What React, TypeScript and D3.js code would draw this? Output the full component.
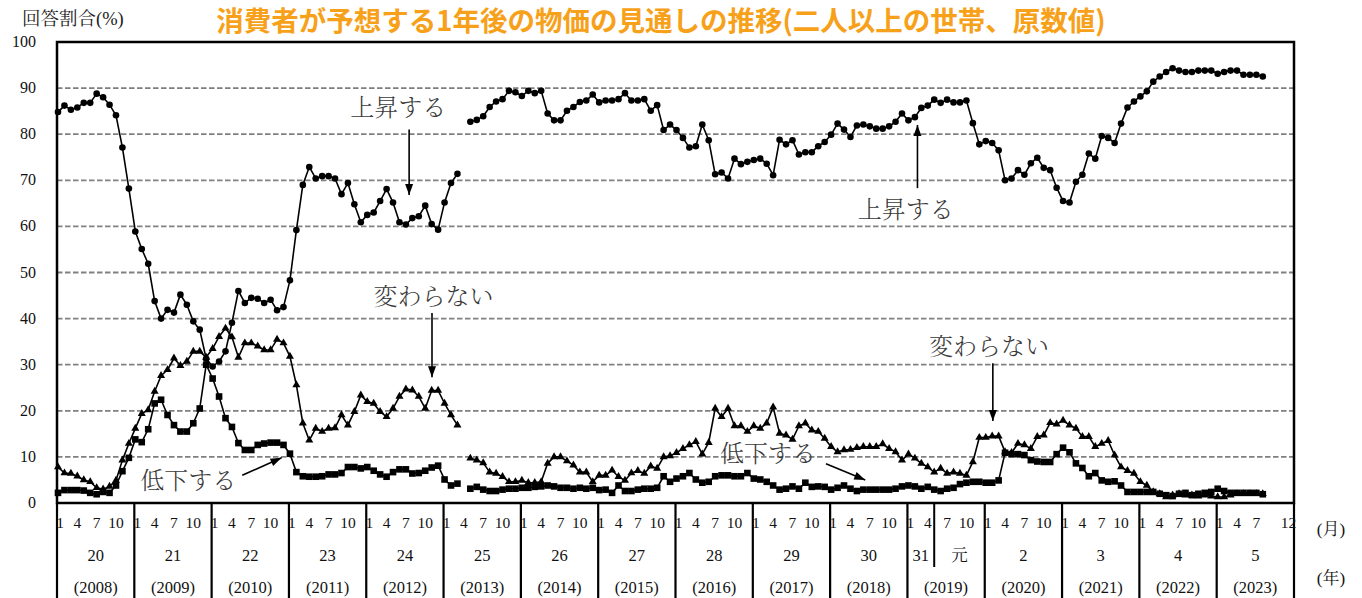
import React from "react";
import * as d3 from "d3";

const W = 1362;
const H = 598;

// Monthly data, Jan 2008 (index 0) .. Aug 2023 (index 187); index 63 (Apr 2013) has no point
const upData: (number | null)[] = [
  84.8, 86.2, 85.3, 85.8, 86.8, 86.8, 88.8, 88.0, 86.4, 84.1, 77.1, 68.2,
  58.9, 55.1, 51.9, 43.8, 40.0, 41.9, 41.3, 45.2, 43.0, 39.4, 37.6, 31.3,
  29.6, 30.7, 32.9, 39.1, 46.0, 43.4, 44.5, 44.3, 43.4, 44.1, 41.8, 42.5,
  48.3, 59.2, 69.0, 72.9, 70.4, 70.9, 70.9, 70.4, 67.0, 69.4, 64.8, 60.9,
  62.5, 63.0, 65.5, 68.1, 65.2, 60.9, 60.4, 61.8, 62.2, 64.5, 60.5, 59.3,
  65.2, 69.4, 71.4, null,
  82.7, 83.1, 83.9, 85.9, 87.1, 87.6, 89.4, 89.1, 88.3, 89.4,
  88.9, 89.4, 84.5, 83.0, 83.0, 85.1, 85.9, 87.0, 87.3, 88.6,
  86.9, 87.3, 87.3, 87.6, 88.9, 87.3, 87.3, 87.6, 85.1, 86.3,
  80.9, 82.1, 80.9, 79.2, 77.1, 77.4, 82.1, 78.7, 71.3, 71.7,
  70.4, 74.7, 73.5, 74.0, 74.4, 74.7, 73.6, 71.1, 78.8, 77.8,
  78.7, 75.6, 76.1, 76.1, 77.4, 78.3, 79.9, 82.3, 81.0, 79.4, 81.9,
  82.1, 81.7, 81.2, 81.2, 81.7, 82.7, 84.5, 83.0, 83.7, 85.7,
  86.2, 87.5, 86.8, 87.5, 86.9, 86.9, 87.3, 82.4, 77.8, 78.5,
  78.1, 76.5, 70.0, 70.4, 72.2, 71.2, 73.7, 74.9, 72.7, 72.2,
  68.4, 65.5, 65.2, 69.7, 71.2, 75.8, 74.7, 79.6, 79.2, 78.1,
  82.3, 85.8, 87.1, 88.2, 89.3, 91.4, 92.5, 93.5, 94.3, 93.8,
  93.5, 93.5, 93.8, 93.8, 93.8, 93.1, 93.5, 93.8, 93.8, 92.9,
  92.9, 92.9, 92.5,
];

const flatData: (number | null)[] = [
  7.8, 6.5, 6.4, 5.8, 5.0, 4.6, 3.3, 3.0, 3.6, 4.9, 9.3, 12.9,
  16.2, 19.4, 20.2, 24.2, 27.6, 28.9, 31.4, 29.8, 30.7, 32.9, 32.9, 31.6,
  33.5, 36.1, 37.9, 36.0, 31.6, 34.7, 34.7, 34.0, 33.2, 33.2, 35.5, 34.7,
  31.8, 25.6, 17.3, 13.6, 16.2, 15.5, 16.2, 16.3, 19.1, 16.9, 19.8, 23.4,
  22.0, 21.6, 19.8, 18.7, 20.5, 23.1, 24.7, 24.5, 23.1, 20.5, 24.4, 24.4,
  21.6, 19.1, 16.9, null,
  9.7, 9.3, 8.7, 6.7, 6.4, 5.7, 4.6, 4.6, 4.9, 4.4,
  4.4, 4.6, 8.6, 10.0, 10.0, 9.1, 8.2, 6.7, 6.7, 4.6,
  6.0, 6.0, 7.1, 5.7, 4.9, 6.5, 7.0, 6.4, 8.0, 7.5,
  10.0, 10.2, 10.9, 11.8, 12.6, 13.3, 10.6, 13.1, 20.5, 18.7,
  20.5, 16.7, 16.7, 15.5, 16.7, 16.2, 17.3, 20.8, 15.1, 14.7,
  13.8, 16.7, 17.3, 15.8, 15.5, 14.0, 12.2, 11.1, 11.5, 11.6, 12.0,
  12.2, 12.2, 12.2, 12.8, 11.8, 11.1, 9.3, 10.6, 9.7, 8.6,
  7.8, 6.7, 7.5, 6.4, 6.7, 6.4, 6.0, 8.9, 14.2, 14.2,
  14.5, 14.5, 11.1, 10.9, 12.9, 12.6, 11.8, 14.4, 14.7, 17.4,
  17.1, 17.9, 16.9, 16.2, 14.4, 14.4, 12.2, 12.9, 13.5, 10.4,
  7.8, 7.0, 6.4, 4.6, 3.8, 2.4, 2.0, 1.3, 1.7, 2.0,
  1.7, 1.7, 1.5, 1.7, 1.5, 1.3, 1.3, 1.7, 2.0, 2.0,
  2.0, 2.0, 2.0,
];

const downData: (number | null)[] = [
  2.2, 2.8, 2.8, 2.8, 2.7, 2.2, 1.9, 2.4, 2.2, 3.8, 6.9, 9.8,
  13.8, 13.2, 16.0, 21.6, 22.4, 19.1, 16.9, 15.5, 15.5, 17.3, 20.5, 30.0,
  27.0, 23.1, 18.4, 16.5, 13.0, 11.5, 11.5, 12.6, 12.9, 13.1, 13.1, 12.6,
  10.7, 6.7, 5.8, 5.7, 5.7, 5.8, 6.2, 6.2, 6.5, 7.8, 7.8, 7.5,
  7.8, 7.0, 6.2, 5.7, 6.7, 7.3, 7.3, 6.4, 6.5, 7.0, 7.7, 8.1,
  5.1, 3.8, 4.2, null,
  3.1, 3.5, 2.9, 2.6, 2.6, 2.9, 3.1, 3.1, 3.3, 3.3,
  3.5, 3.6, 3.8, 3.6, 3.3, 3.3, 3.1, 3.3, 3.1, 3.3,
  2.8, 2.9, 2.2, 3.8, 2.6, 2.6, 2.9, 3.1, 3.1, 3.3,
  5.8, 4.6, 5.3, 5.8, 6.5, 5.1, 4.4, 4.6, 5.8, 6.0,
  6.0, 5.8, 5.8, 6.5, 5.3, 5.1, 4.6, 3.8, 2.9, 3.1,
  3.6, 3.1, 4.4, 3.5, 3.6, 3.5, 2.9, 3.3, 3.8, 3.1, 2.6,
  2.9, 2.9, 2.9, 2.9, 2.9, 3.1, 3.6, 3.8, 3.6, 3.1,
  3.5, 2.9, 2.6, 3.1, 3.3, 4.1, 4.4, 4.6, 4.6, 4.4,
  4.4, 4.9, 10.9, 10.6, 10.6, 10.4, 9.3, 9.0, 8.9, 8.9,
  10.6, 12.0, 11.0, 8.6, 7.6, 5.8, 6.5, 4.9, 4.6, 4.7,
  3.8, 2.4, 2.4, 2.4, 2.4, 2.4, 2.0, 1.7, 1.5, 2.0,
  2.2, 1.7, 2.0, 2.2, 2.4, 3.1, 2.6, 2.2, 2.2, 2.2,
  2.2, 2.2, 1.9,
];

const yTicks = [0, 10, 20, 30, 40, 50, 60, 70, 80, 90, 100];
const gridValues = [10, 20, 30, 40, 50, 60, 70, 80, 90];
const monthTickLabels = [1, 4, 7, 10];
const eraLabels = ["20", "21", "22", "23", "24", "25", "26", "27", "28", "29", "30", "元", "2", "3", "4", "5"];
const westernLabels = ["(2008)", "(2009)", "(2010)", "(2011)", "(2012)", "(2013)", "(2014)", "(2015)", "(2016)", "(2017)", "(2018)", "(2019)", "(2020)", "(2021)", "(2022)", "(2023)"];

const title = "消費者が予想する1年後の物価の見通しの推移(二人以上の世帯、原数値)";

// annotations in data coordinates (month index, value)
const annotations = [
  { text: "上昇する", tx: 52.8, ty: 84.0, from: [54.5, 81.0], to: [54.5, 66.8] },
  { text: "変わらない", tx: 58.3, ty: 43.0, from: [58.05, 41.2], to: [58.05, 27.3] },
  { text: "低下する", tx: 20.2, ty: 3.0, from: [28.6, 6.0], to: [34.7, 9.8] },
  { text: "上昇する", tx: 131.6, ty: 61.8, from: [133.4, 68.3], to: [133.4, 82.0] },
  { text: "変わらない", tx: 144.5, ty: 32.2, from: [145.1, 30.3], to: [145.1, 17.8] },
  { text: "低下する", tx: 110.2, ty: 8.9, from: [119.2, 8.5], to: [125.3, 5.0] },
];

const serif = "'Liberation Serif', 'Noto Serif CJK JP', 'Noto Sans CJK JP', serif";
const jp = "'Noto Serif CJK JP', 'Noto Sans CJK JP', serif";

export default function App() {
  const left = 57;
  const right = 1294;
  const top = 42;
  const bottom = 503;

  const x = d3.scaleLinear().domain([0, 192]).range([left, right]);
  const px = (i: number) => x(i) + 1;
  const y = d3.scaleLinear().domain([0, 100]).range([bottom, top]);

  const line = d3
    .line<number | null>()
    .defined((d) => d != null)
    .x((_, i) => px(i))
    .y((d) => y(d as number));

  const tri = d3.symbol().type(d3.symbolTriangle).size(28)();

  const arrowHead = (x1: number, y1: number, x2: number, y2: number) => {
    const ang = Math.atan2(y2 - y1, x2 - x1);
    const L = 11;
    const hw = 4;
    const bx = x2 - L * Math.cos(ang);
    const by = y2 - L * Math.sin(ang);
    const nx = -Math.sin(ang);
    const ny = Math.cos(ang);
    return `M${x2},${y2}L${bx + nx * hw},${by + ny * hw}L${bx - nx * hw},${by - ny * hw}Z`;
  };

  const years = d3.range(16);

  return (
    <svg
      width={W}
      height={H}
      style={{ position: "absolute", left: 0, top: 0, background: "#fff" }}
    >
      <rect x={0} y={0} width={W} height={H} fill="#fff" />
      {/* title */}
      <text
        x={661}
        y={31}
        textAnchor="middle"
        fontFamily="'Noto Sans CJK JP', sans-serif"
        fontWeight="bold"
        fontSize={27.5}
        fill="#F7A11A"
      >
        {title}
      </text>
      <text x={22} y={25} fontFamily={serif} fontSize={18.5} fill="#222">
        回答割合(%)
      </text>

      {/* grid */}
      {gridValues.map((v) => (
        <line
          key={v}
          x1={left}
          x2={right}
          y1={y(v)}
          y2={y(v)}
          stroke="#808080"
          strokeWidth={1.8}
          strokeDasharray="5.5,2.5"
        />
      ))}

      {/* y tick labels */}
      {yTicks.map((v) => (
        <text
          key={v}
          x={36}
          y={y(v) + 5}
          textAnchor="end"
          fontFamily={serif}
          fontSize={16}
          fill="#111"
        >
          {v}
        </text>
      ))}

      {/* series lines */}
      <g fill="none" stroke="#000" strokeWidth={1.6} strokeLinejoin="round">
        <path d={line(upData) || ""} />
        <path d={line(flatData) || ""} />
        <path d={line(downData) || ""} />
      </g>
      {/* markers */}
      <g fill="#000">
        {downData.map((d, i) =>
          d == null ? null : (
            <rect key={"s" + i} x={px(i) - 3.3} y={y(d) - 3.3} width={6.6} height={6.6} />
          )
        )}
        {flatData.map((d, i) =>
          d == null ? null : (
            <path key={"t" + i} d={tri || ""} transform={`translate(${px(i)},${y(d)})`} />
          )
        )}
        {upData.map((d, i) =>
          d == null ? null : <circle key={"c" + i} cx={px(i)} cy={y(d)} r={3.3} />
        )}
      </g>

      {/* annotations */}
      {annotations.map((a, k) => {
        const x1 = px(a.from[0]);
        const y1 = y(a.from[1]);
        const x2 = px(a.to[0]);
        const y2 = y(a.to[1]);
        return (
          <g key={"a" + k}>
            <text
              x={px(a.tx)}
              y={y(a.ty)}
              textAnchor="middle"
              fontFamily={jp}
              fontWeight={300}
              fontSize={24}
              fill="#3a3a3a"
            >
              {a.text}
            </text>
            <line x1={x1} y1={y1} x2={x2} y2={y2} stroke="#000" strokeWidth={1.6} />
            <path d={arrowHead(x1, y1, x2, y2)} fill="#000" />
          </g>
        );
      })}

      {/* frame */}
      <rect
        x={left}
        y={top}
        width={right - left}
        height={bottom - top}
        fill="none"
        stroke="#000"
        strokeWidth={2.5}
      />

      {/* x axis table */}
      {d3.range(17).map((k) => (
        <line
          key={"b" + k}
          x1={x(k * 12)}
          x2={x(k * 12)}
          y1={bottom}
          y2={H}
          stroke="#000"
          strokeWidth={2.2}
        />
      ))}
      {/* Reiwa divider (May 2019) */}
      <line x1={px(136)} x2={px(136)} y1={bottom} y2={567} stroke="#000" strokeWidth={2} />

      {years.map((k) =>
        monthTickLabels
          .filter((m) => !(k === 15 && m === 10))
          .map((m) => (
            <text
              key={`m${k}-${m}`}
              x={px(k * 12 + m - 1) + (m === 1 ? 2 : 0)}
              y={528}
              textAnchor="middle"
              fontFamily={serif}
              fontSize={15.5}
              fill="#111"
            >
              {m}
            </text>
          ))
      )}
      <text x={px(191)} y={528} textAnchor="middle" fontFamily={serif} fontSize={15.5} fill="#111">
        12
      </text>

      {years.map((k) => {
        if (k === 11) {
          return (
            <g key={"e" + k}>
              <text x={(x(132) + px(136)) / 2} y={561} textAnchor="middle" fontFamily={serif} fontSize={16.5} fill="#111">
                31
              </text>
              <text x={(px(136) + x(144)) / 2} y={561} textAnchor="middle" fontFamily={serif} fontSize={16.5} fill="#111">
                {eraLabels[k]}
              </text>
            </g>
          );
        }
        return (
          <text key={"e" + k} x={x(k * 12 + 6)} y={561} textAnchor="middle" fontFamily={serif} fontSize={16.5} fill="#111">
            {eraLabels[k]}
          </text>
        );
      })}
      {years.map((k) => (
        <text key={"w" + k} x={x(k * 12 + 6)} y={593} textAnchor="middle" fontFamily={serif} fontSize={16.5} fill="#111">
          {westernLabels[k]}
        </text>
      ))}
      <text x={1331} y={535} textAnchor="middle" fontFamily={serif} fontSize={17} fill="#111">
        (月)
      </text>
      <text x={1331} y={584} textAnchor="middle" fontFamily={serif} fontSize={17} fill="#111">
        (年)
      </text>
    </svg>
  );
}
